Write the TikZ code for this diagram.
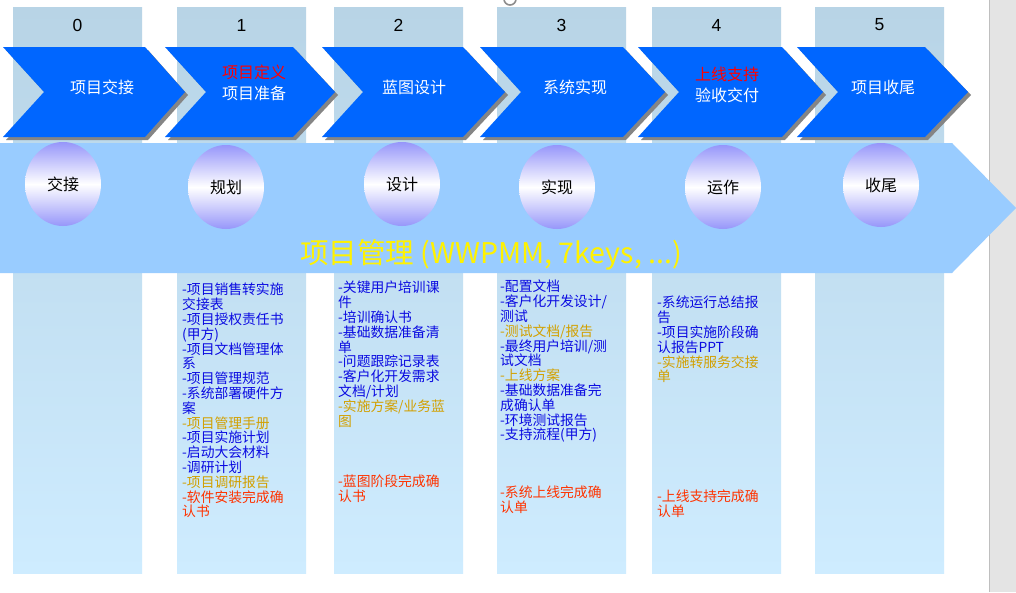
\documentclass[tikz,border=0pt]{standalone}
\usepackage{fontspec}
\setmainfont{Liberation Sans}
\newfontfamily\cjk{Noto Sans CJK SC}
\usetikzlibrary{shapes.geometric}

\definecolor{chevblue}{RGB}{0,102,255}
\definecolor{arrowblue}{RGB}{153,204,255}
\definecolor{coltop}{RGB}{184,212,230}
\definecolor{colbot}{RGB}{206,236,255}
\definecolor{ballpurple}{RGB}{150,150,250}
\definecolor{itemblue}{RGB}{10,10,225}
\definecolor{itemgold}{RGB}{210,160,0}
\definecolor{itemred}{RGB}{255,51,0}
\definecolor{sidegray}{RGB}{228,228,228}

\newcommand\golditem[1]{\textcolor{itemgold}{#1}}
\newcommand\signoff[1]{\textcolor{itemred}{#1}}

\tikzset{
  phasecol/.style={top color=coltop, bottom color=colbot, draw=none},
  chevshape/.style={fill=chevblue, draw=none},
  chevshadow/.style={fill=black!48, draw=none},
  phaseno/.style={font=\fontsize{17.5}{20}\selectfont, text=black, inner sep=0pt},
  phasename/.style={font=\cjk\fontsize{16}{18}\selectfont, text=white, inner sep=0pt},
  phasenote/.style={font=\cjk\fontsize{16}{18}\selectfont, text=red, inner sep=0pt},
  stageball/.style={ellipse, minimum width=76pt, minimum height=84pt, inner sep=0pt,
    top color=ballpurple, bottom color=ballpurple, middle color=white,
    font=\cjk\fontsize{16}{18}\selectfont},
  itemlist/.style={anchor=north west, align=left, inner sep=0pt, text=itemblue,
    font=\cjk\fontsize{13.8}{14.8}\selectfont}
}

\begin{document}
\begin{tikzpicture}[x=1pt, y=-1pt]
\useasboundingbox (0,0) rectangle (1016,592);
\clip (0,0) rectangle (1016,592);
\fill[white] (0,0) rectangle (1016,592);

% Side strip
\fill[sidegray] (989,0) rectangle (1016,592);
\draw[black!25] (989,0) -- (989,592);
\draw[black!45, line width=1.6pt] (510,-1) circle[radius=6pt];

% Phase columns and numbers
\foreach \x [count=\n from 0] in {13,177,334,497,652,815} {
  \shade[phasecol] (\x,7) rectangle ++(129,566);
  \node[phaseno] (no\n) at (\x+64.5,25) {\n};
}

% Chevrons
\foreach \l/\r/\t in {3/145/185, 165/293/335, 322/463/505, 480/623/665, 638/782/823, 797/925/968} {
  \fill[chevshadow] (\l+3,50) -- (\r+3,50) -- (\t+3,95) -- (\r+3,140) -- (\l+3,140) -- (\l+44,95) -- cycle;
  \fill[chevshape] (\l,47) -- (\r,47) -- (\t,92) -- (\r,137) -- (\l,137) -- (\l+41,92) -- cycle;
}
\node[phasename] (p0) at (102,87) {项目交接};
\node[phasenote] (n1) at (254,72) {项目定义};
\node[phasename] (p1) at (254,93) {项目准备};
\node[phasename] (p2) at (414,87) {蓝图设计};
\node[phasename] (p3) at (575,87) {系统实现};
\node[phasenote] (n4) at (727,74) {上线支持};
\node[phasename] (p4) at (727,95) {验收交付};
\node[phasename] (p5) at (883,87) {项目收尾};

% Big arrow
\fill[arrowblue] (0,143) -- (952,143) -- (1016,208) -- (952,273) -- (0,273) -- cycle;
\foreach \x/\y/\s [count=\i from 0] in {63/184/交接, 226/187/规划, 402/184/设计, 557/187/实现, 723/187/运作, 881/185/收尾}
  \node[stageball] (s\i) at (\x,\y) {\s};
\node[font=\cjk\fontsize{28.5}{31}\selectfont, text=yellow, inner sep=0pt] (pm) at (491,255) {项目管理 (WWPMM, 7keys, ...)};

% Deliverables
\node[itemlist] (l1) at (182,283) {-项目销售转实施\\交接表\\-项目授权责任书\\(甲方)\\-项目文档管理体\\系\\-项目管理规范\\-系统部署硬件方\\案\\\golditem{-项目管理手册}\\-项目实施计划\\-启动大会材料\\-调研计划\\\golditem{-项目调研报告}\\\signoff{-软件安装完成确}\\\signoff{认书}};
\node[itemlist] (l2) at (338,281) {-关键用户培训课\\件\\-培训确认书\\-基础数据准备清\\单\\-问题跟踪记录表\\-客户化开发需求\\文档/计划\\\golditem{-实施方案/业务蓝}\\\golditem{图}};
\node[itemlist, text=itemred] (r2) at (338,475) {-蓝图阶段完成确\\认书};
\node[itemlist] (l3) at (500,280) {-配置文档\\-客户化开发设计/\\测试\\\golditem{-测试文档/报告}\\-最终用户培训/测\\试文档\\\golditem{-上线方案}\\-基础数据准备完\\成确认单\\-环境测试报告\\-支持流程(甲方)};
\node[itemlist, text=itemred] (r3) at (500,486) {-系统上线完成确\\认单};
\node[itemlist] (l4) at (657,296) {-系统运行总结报\\告\\-项目实施阶段确\\认报告PPT\\\golditem{-实施转服务交接}\\\golditem{单}};
\node[itemlist, text=itemred] (r4) at (657,490) {-上线支持完成确\\认单};
\end{tikzpicture}
\end{document}
